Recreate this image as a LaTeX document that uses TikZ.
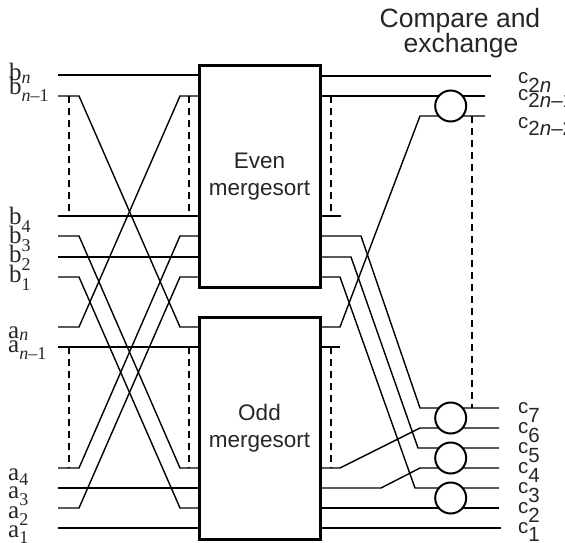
\documentclass[tikz,border=0pt]{standalone}
\usepackage{fontspec}
\setmainfont{Liberation Serif}
\setsansfont{Liberation Sans}
\newcommand{\mylab}[3]{{\fontsize{25}{25}\selectfont #1}\raisebox{-#3pt}{\fontsize{18}{18}\selectfont #2}}
\newcommand{\mycl}[3]{{\sffamily\fontsize{20.5}{20.5}\selectfont #1}\raisebox{-#3pt}{\sffamily\fontsize{20.5}{20.5}\selectfont #2}}
\begin{document}
\begin{tikzpicture}[x=1pt,y=-1pt,
  wire/.style={line width=1.4pt},
  dashline/.style={line width=1.3pt, dash pattern=on 7pt off 5pt},
  sortbox/.style={draw, line width=3pt, fill=white, minimum width=121pt, inner sep=0pt, align=center, font=\sffamily\fontsize{22.5}{26.5}\selectfont, text=black!85},
  cmpnode/.style={draw, circle, line width=2pt, fill=white, minimum size=31pt, inner sep=0pt},
  lab/.style={anchor=base west, inner sep=0pt, text=black!85}]
\useasboundingbox (0,0) rectangle (565,543);
\clip (0,0) rectangle (565,543);

% left wires
\draw[wire] (58,75) -- (199,75);
\draw[wire] (58,96) -- (79,96) -- (180,327) -- (199,327);
\draw[wire] (58,327) -- (79,327) -- (180,96) -- (199,96);
\draw[wire] (58,216) -- (199,216);
\draw[wire] (58,236) -- (79,236) -- (180,468) -- (199,468);
\draw[wire] (58,468) -- (79,468) -- (180,236) -- (199,236);
\draw[wire] (58,257) -- (199,257);
\draw[wire] (58,277) -- (79,277) -- (180,508) -- (199,508);
\draw[wire] (58,508) -- (79,508) -- (180,277) -- (199,277);
\draw[wire] (58,347) -- (199,347);
\draw[wire] (58,488) -- (199,488);
\draw[wire] (58,528) -- (199,528);
\draw[dashline] (69,96) -- (69,216);
\draw[dashline] (189,96) -- (189,216);
\draw[dashline] (69,347) -- (69,468);
\draw[dashline] (189,347) -- (189,468);

% right wires
\draw[wire] (320,76) -- (491,76);
\draw[wire] (320,96) -- (485,96);
\draw[wire] (320,327) -- (340,327) -- (420,116) -- (485,116);
\draw[wire] (320,216) -- (341,216);
\draw[wire] (320,347) -- (340,347);
\draw[wire] (320,236) -- (361,236) -- (420,408) -- (499,408);
\draw[wire] (320,257) -- (351,257) -- (418,448) -- (499,448);
\draw[wire] (320,277) -- (340,277) -- (415,488) -- (499,488);
\draw[wire] (320,468) -- (340,468) -- (420,428) -- (499,428);
\draw[wire] (320,488) -- (381,488) -- (420,468) -- (499,468);
\draw[wire] (320,508) -- (499,508);
\draw[wire] (320,528) -- (501,528);
\draw[dashline] (331,96) -- (331,216);
\draw[dashline] (331,347) -- (331,468);
\draw[dashline] (472,116) -- (472,408);

% boxes
\node[sortbox, minimum height=221pt] (even) at (259.5,176.5) {Even\\mergesort};
\node[sortbox, minimum height=222pt] (odd) at (259.5,428) {Odd\\mergesort};

% compare and exchange
\node[cmpnode] (ce1) at (450.7,106) {};
\node[cmpnode] (ce2) at (450.7,418) {};
\node[cmpnode] (ce3) at (450.7,458) {};
\node[cmpnode] (ce4) at (450.7,498) {};

\node[anchor=base, inner sep=0pt, text=black!85, font=\sffamily\fontsize{26.5}{26.5}\selectfont] (t1) at (460,28) {Compare and};
\node[anchor=base, inner sep=0pt, text=black!85, font=\sffamily\fontsize{26.5}{26.5}\selectfont] (t2) at (461,53) {exchange};

% left labels
\node[lab] (bn) at (9,81) {\mylab{b}{\textit{n}}{3}};
\node[lab] (bn1) at (9,94) {\mylab{b}{\textit{n}–1}{7}};
\node[lab] (b4) at (9,224) {\mylab{b}{4}{8}};
\node[lab] (b3) at (9,243) {\mylab{b}{3}{8}};
\node[lab] (b2) at (9,262) {\mylab{b}{2}{8}};
\node[lab] (b1) at (9,282) {\mylab{b}{1}{8}};
\node[lab] (an) at (8,338) {\mylab{a}{\textit{n}}{2}};
\node[lab] (an1) at (8,352) {\mylab{a}{\textit{n}–1}{7}};
\node[lab] (a4) at (8,480) {\mylab{a}{4}{5}};
\node[lab] (a3) at (8,498) {\mylab{a}{3}{7}};
\node[lab] (a2) at (8,518) {\mylab{a}{2}{7}};
\node[lab] (a1) at (8,537) {\mylab{a}{1}{6}};

% right labels
\node[lab] (c2n) at (518,84) {\mycl{c}{2\textit{n}}{9}};
\node[lab] (c2n1) at (518,100) {\mycl{c}{2\textit{n}–1}{7}};
\node[lab] (c2n2) at (518,128) {\mycl{c}{2\textit{n}–2}{7}};
\node[lab] (c7) at (518,413) {\mycl{c}{7}{9}};
\node[lab] (c6) at (518,433) {\mycl{c}{6}{9}};
\node[lab] (c5) at (518,453) {\mycl{c}{5}{9}};
\node[lab] (c4) at (518,473) {\mycl{c}{4}{9}};
\node[lab] (c3) at (518,493) {\mycl{c}{3}{9}};
\node[lab] (c2) at (518,513) {\mycl{c}{2}{9}};
\node[lab] (c1) at (518,533) {\mycl{c}{1}{8}};
\end{tikzpicture}
\end{document}
